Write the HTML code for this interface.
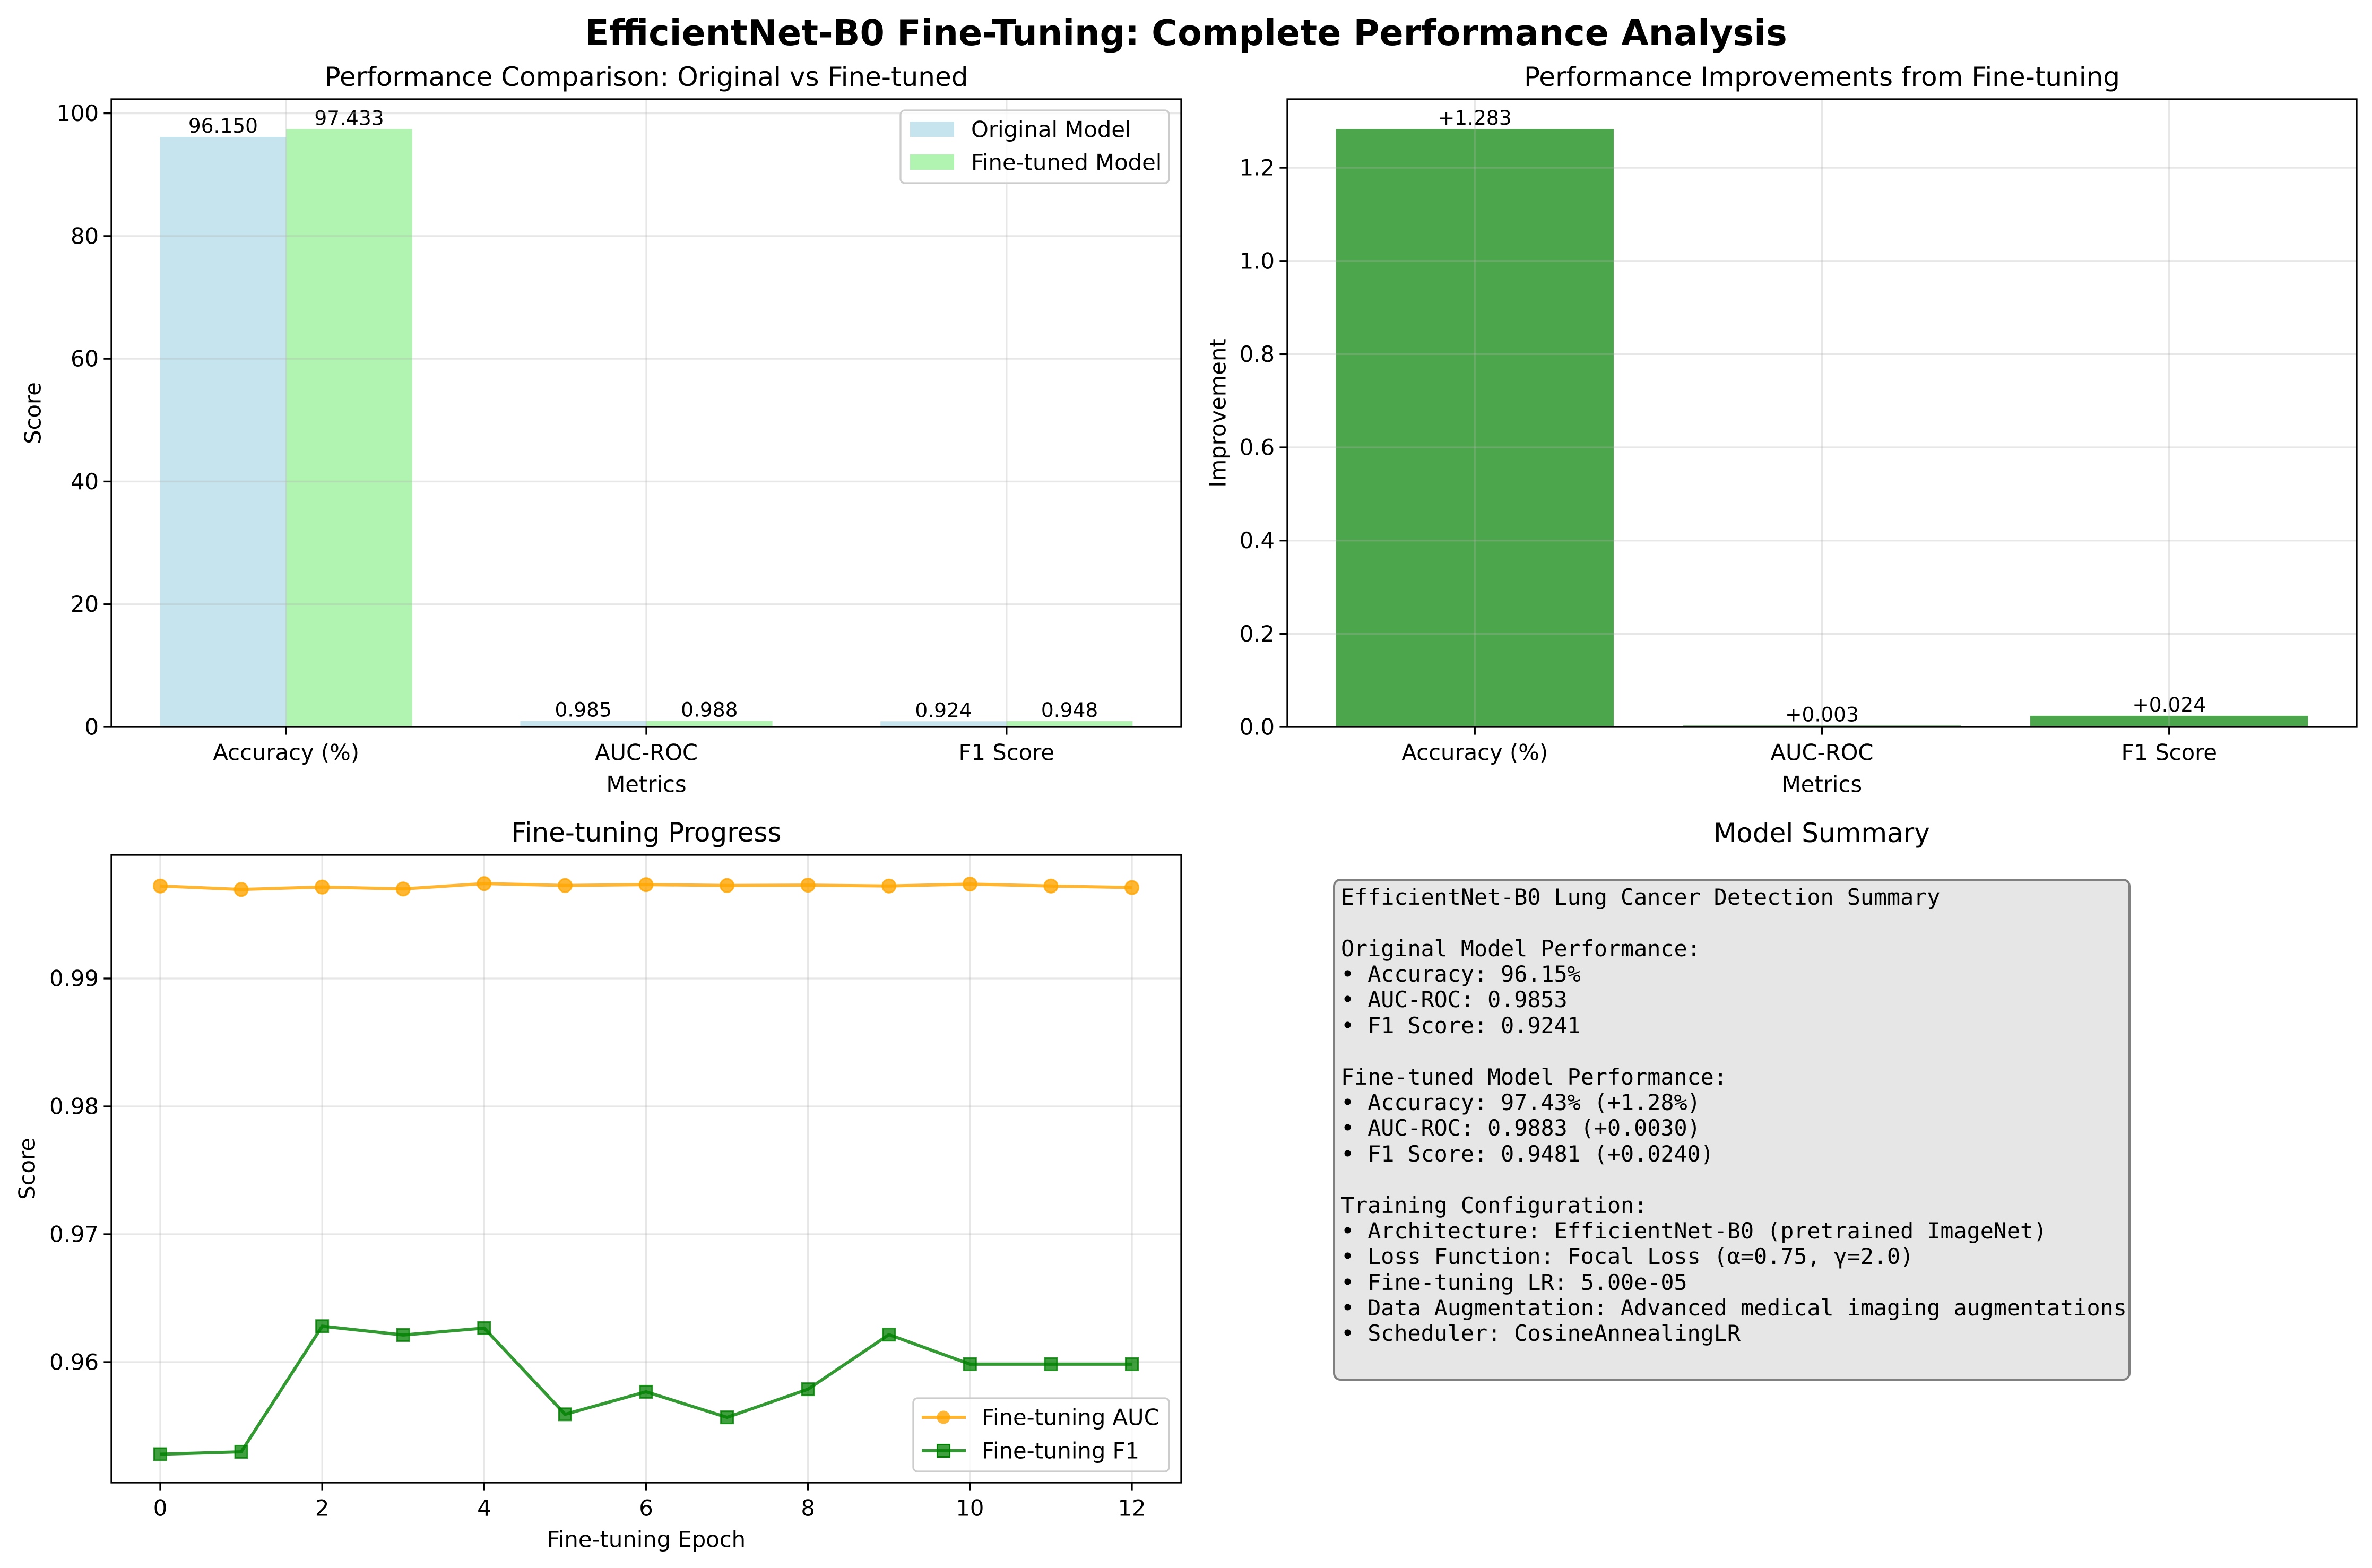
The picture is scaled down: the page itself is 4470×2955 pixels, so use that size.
<!DOCTYPE html>
<html><head><meta charset="utf-8"><style>
html,body{margin:0;padding:0;background:#fff;}
svg{display:block;}
text{font-family:"DejaVu Sans","Liberation Sans",sans-serif;}
.mono{font-family:"DejaVu Sans Mono","Liberation Mono",monospace;}
</style></head><body>
<svg id="fig" xmlns="http://www.w3.org/2000/svg" width="4470" height="2955" viewBox="0 0 4470 2955">
<rect width="4470" height="2955" fill="#fff"/>
<text x="2235" y="62" font-size="66.7" font-weight="bold" text-anchor="middle" dominant-baseline="central">EfficientNet-B0 Fine-Tuning: Complete Performance Analysis</text>
<g id="tl"></g>
<g id="tr"></g>
<g id="bl"></g>
<g id="br">
<text x="3433" y="1570" font-size="50" text-anchor="middle" dominant-baseline="central">Model Summary</text>
<rect x="2514" y="1658" width="1499" height="942" rx="12" fill="#e6e6e6" stroke="#808080" stroke-width="4"/>
<text class="mono" x="2527" font-size="41.7" xml:space="preserve">
<tspan x="2527" y="1705">EfficientNet-B0 Lung Cancer Detection Summary</tspan>
<tspan x="2527" y="1802">Original Model Performance:</tspan>
<tspan x="2527" y="1850">• Accuracy: 96.15%</tspan>
<tspan x="2527" y="1898">• AUC-ROC: 0.9853</tspan>
<tspan x="2527" y="1947">• F1 Score: 0.9241</tspan>
<tspan x="2527" y="2044">Fine-tuned Model Performance:</tspan>
<tspan x="2527" y="2092">• Accuracy: 97.43% (+1.28%)</tspan>
<tspan x="2527" y="2140">• AUC-ROC: 0.9883 (+0.0030)</tspan>
<tspan x="2527" y="2189">• F1 Score: 0.9481 (+0.0240)</tspan>
<tspan x="2527" y="2286">Training Configuration:</tspan>
<tspan x="2527" y="2334">• Architecture: EfficientNet-B0 (pretrained ImageNet)</tspan>
<tspan x="2527" y="2382">• Loss Function: Focal Loss (α=0.75, γ=2.0)</tspan>
<tspan x="2527" y="2431">• Fine-tuning LR: 5.00e-05</tspan>
<tspan x="2527" y="2479">• Data Augmentation: Advanced medical imaging augmentations</tspan>
<tspan x="2527" y="2527">• Scheduler: CosineAnnealingLR</tspan>
</text>
</g>
</svg>
<script>
const categories = ["Accuracy (%)", "AUC-ROC", "F1 Score"];
const originalScores = [96.150, 0.985, 0.924];
const finetunedScores = [97.433, 0.988, 0.948];
const originalLabels = ["96.150", "0.985", "0.924"];
const finetunedLabels = ["97.433", "0.988", "0.948"];
const improvements = [1.283, 0.003, 0.024];
const improvementLabels = ["+1.283", "+0.003", "+0.024"];
const scoreTicks = [0, 20, 40, 60, 80, 100];
const improvementTicks = [0.0, 0.2, 0.4, 0.6, 0.8, 1.0, 1.2];
const epochs = [0,1,2,3,4,5,6,7,8,9,10,11,12];
const aucSeries = [0.99723,0.99696,0.99715,0.99700,0.99742,0.99727,0.99734,0.99727,0.99730,0.99723,0.99738,0.99723,0.99711];
const f1Series = [0.95280,0.95299,0.96281,0.96212,0.96266,0.95592,0.95768,0.95568,0.95788,0.96215,0.95984,0.95984,0.95984];
const progressYTicks = [0.96, 0.97, 0.98, 0.99];
const epochTicks = [0, 2, 4, 6, 8, 10, 12];

const NS = "http://www.w3.org/2000/svg";
function mk(parent, tag, attrs, txt) {
  const e = document.createElementNS(NS, tag);
  for (const k in attrs) e.setAttribute(k, attrs[k]);
  if (txt !== undefined) e.textContent = txt;
  parent.appendChild(e);
  return e;
}
function lin(d0, d1, p0, p1) { return v => p0 + (v - d0) / (d1 - d0) * (p1 - p0); }

function frame(g, L, R, T, B, title, xlabel, ylabel, ylx) {
  let e = mk(g, "text", {x:(L+R)/2, y:T-42, "font-size":50, "text-anchor":"middle", "dominant-baseline":"central"}, title);
  
  
  e = mk(g, "text", {x:(L+R)/2, y:B+108, "font-size":41.7, "text-anchor":"middle", "dominant-baseline":"central"}, xlabel);
  
  
  e = mk(g, "text", {x:ylx, y:(T+B)/2, "font-size":41.7, "text-anchor":"middle", "dominant-baseline":"central", transform:`rotate(-90 ${ylx} ${(T+B)/2})`}, ylabel);
  
  
}
function spines(g, L, R, T, B) {
  const e = mk(g, "rect", {x:L, y:T, width:R-L, height:B-T, fill:"none", stroke:"#000", "stroke-width":3.3});
  
  
}
function yTicks(g, ticks, ys, L, R, fmt) {
  ticks.forEach(t => {
    const y = ys(t);
    let e = mk(g, "line", {x1:L, x2:R, y1:y, y2:y, stroke:"#b0b0b0", "stroke-opacity":0.3, "stroke-width":3.3});
    
    
    mk(g, "line", {x1:L-14.6, x2:L, y1:y, y2:y, stroke:"#000", "stroke-width":3.3});
    e = mk(g, "text", {x:L-24, y:y, "font-size":41.7, "text-anchor":"end", "dominant-baseline":"central"}, fmt(t));
    
    
  });
}
function xTicks(g, ticks, xs, T, B, labelFn) {
  ticks.forEach((t, i) => {
    const x = xs(typeof t === "number" ? t : i);
    let e = mk(g, "line", {x1:x, x2:x, y1:T, y2:B, stroke:"#b0b0b0", "stroke-opacity":0.3, "stroke-width":3.3});
    
    
    mk(g, "line", {x1:x, x2:x, y1:B, y2:B+14.6, stroke:"#000", "stroke-width":3.3});
    e = mk(g, "text", {x:x, y:B+48, "font-size":41.7, "text-anchor":"middle", "dominant-baseline":"central"}, labelFn(t));
    
    
  });
}

// Top-left grouped bars
(function(){
  const g = document.getElementById("tl");
  const L=210,R=2226,T=187,B=1370;
  const xs = lin(-0.485, 2.485, L, R);
  const ys = lin(0, 102.3, B, T);
  const w = 0.35;
  frame(g, L, R, T, B, "Performance Comparison: Original vs Fine-tuned", "Metrics", "Score", 62);
  categories.forEach((c, i) => {
    let x0 = xs(i - w), x1 = xs(i);
    let e = mk(g, "rect", {x:x0, y:ys(originalScores[i]), width:x1-x0, height:B-ys(originalScores[i]), fill:"#add8e6", "fill-opacity":0.7});
    
    
    e = mk(g, "rect", {x:x1, y:ys(finetunedScores[i]), width:xs(i+w)-x1, height:B-ys(finetunedScores[i]), fill:"#90ee90", "fill-opacity":0.7});
    
    
    e = mk(g, "text", {x:xs(i - w/2), y:ys(originalScores[i]) - 8, "font-size":37.5, "text-anchor":"middle"}, originalLabels[i]);
    
    
    e = mk(g, "text", {x:xs(i + w/2), y:ys(finetunedScores[i]) - 8, "font-size":37.5, "text-anchor":"middle"}, finetunedLabels[i]);
    
    
  });
  yTicks(g, scoreTicks, ys, L, R, t => String(t));
  xTicks(g, categories, xs, T, B, t => t);
  spines(g, L, R, T, B);
  const lg = mk(g, "g", {});
  
  
  mk(lg, "rect", {x:1697, y:208, width:506, height:137, rx:8, fill:"#fff", "fill-opacity":0.8, stroke:"#ccc", "stroke-width":3.3});
  let e = mk(lg, "rect", {x:1715, y:229, width:83, height:29, fill:"#add8e6", "fill-opacity":0.7});
  
  
  e = mk(lg, "text", {x:1830, y:244, "font-size":41.7, "dominant-baseline":"central"}, "Original Model");
  
  
  e = mk(lg, "rect", {x:1715, y:291, width:83, height:29, fill:"#90ee90", "fill-opacity":0.7});
  
  
  e = mk(lg, "text", {x:1830, y:306, "font-size":41.7, "dominant-baseline":"central"}, "Fine-tuned Model");
  
  
})();

// Top-right improvement bars
(function(){
  const g = document.getElementById("tr");
  const L=2426,R=4441,T=187,B=1370;
  const xs = lin(-0.54, 2.54, L, R);
  const ys = lin(0, 1.347, B, T);
  frame(g, L, R, T, B, "Performance Improvements from Fine-tuning", "Metrics", "Improvement", 2295);
  improvements.forEach((v, i) => {
    const x0 = xs(i - 0.4), x1 = xs(i + 0.4);
    let e = mk(g, "rect", {x:x0, y:ys(v), width:x1-x0, height:B-ys(v), fill:"#008000", "fill-opacity":0.7});
    
    
    e = mk(g, "text", {x:xs(i), y:ys(v) - 8, "font-size":37.5, "text-anchor":"middle"}, improvementLabels[i]);
    
    
  });
  yTicks(g, improvementTicks, ys, L, R, t => t.toFixed(1));
  xTicks(g, categories, xs, T, B, t => t);
  spines(g, L, R, T, B);
})();

// Bottom-left progress lines
(function(){
  const g = document.getElementById("bl");
  const L=210,R=2226,T=1611,B=2794;
  const xs = lin(0, 12, 302, 2133);
  const ys = lin(0.96, 0.99, 2567, 1844);
  frame(g, L, R, T, B, "Fine-tuning Progress", "Fine-tuning Epoch", "Score", 51);
  g.lastChild.previousSibling.setAttribute("y", 2901);
  yTicks(g, progressYTicks, ys, L, R, t => t.toFixed(2));
  xTicks(g, epochTicks, xs, T, B, t => String(t));
  const aucPts = epochs.map((ep, i) => xs(ep) + "," + ys(aucSeries[i])).join(" ");
  let e = mk(g, "polyline", {points:aucPts, fill:"none", stroke:"#ffa500", "stroke-opacity":0.8, "stroke-width":6});
  
  
  epochs.forEach((ep, i) => {
    const m = mk(g, "circle", {cx:xs(ep), cy:ys(aucSeries[i]), r:12.5, fill:"#ffa500", "fill-opacity":0.8, stroke:"#ffa500", "stroke-opacity":0.8, "stroke-width":3});
    
    
  });
  const f1Pts = epochs.map((ep, i) => xs(ep) + "," + ys(f1Series[i])).join(" ");
  e = mk(g, "polyline", {points:f1Pts, fill:"none", stroke:"#008000", "stroke-opacity":0.8, "stroke-width":6});
  
  
  epochs.forEach((ep, i) => {
    const m = mk(g, "rect", {x:xs(ep)-11.5, y:ys(f1Series[i])-11.5, width:23, height:23, fill:"#008000", "fill-opacity":0.75, stroke:"#008000", "stroke-opacity":0.8, "stroke-width":3});
    
    
  });
  spines(g, L, R, T, B);
  const lg = mk(g, "g", {});
  
  
  mk(lg, "rect", {x:1721, y:2635, width:482, height:138, rx:8, fill:"#fff", "fill-opacity":0.8, stroke:"#ccc", "stroke-width":3.3});
  mk(lg, "line", {x1:1737, x2:1820, y1:2671, y2:2671, stroke:"#ffa500", "stroke-opacity":0.8, "stroke-width":6});
  mk(lg, "circle", {cx:1778, cy:2671, r:12.5, fill:"#ffa500", "fill-opacity":0.8});
  e = mk(lg, "text", {x:1850, y:2671, "font-size":41.7, "dominant-baseline":"central"}, "Fine-tuning AUC");
  
  
  mk(lg, "line", {x1:1737, x2:1820, y1:2734, y2:2734, stroke:"#008000", "stroke-opacity":0.8, "stroke-width":6});
  mk(lg, "rect", {x:1766.5, y:2722.5, width:23, height:23, fill:"#008000", "fill-opacity":0.75, stroke:"#008000", "stroke-width":3});
  e = mk(lg, "text", {x:1850, y:2734, "font-size":41.7, "dominant-baseline":"central"}, "Fine-tuning F1");
  
  
})();
</script>
</body></html>
